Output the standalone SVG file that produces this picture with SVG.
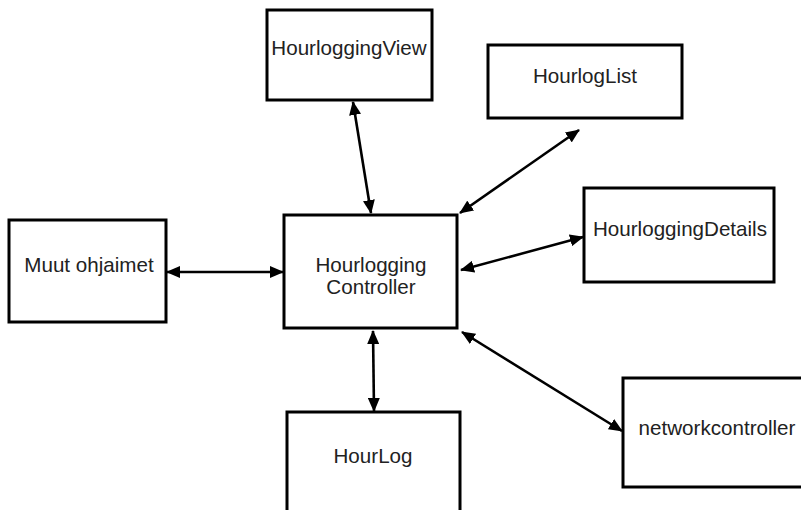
<svg xmlns="http://www.w3.org/2000/svg" width="801" height="510" viewBox="0 0 801 510">
  <style>
    .box { fill: #ffffff; stroke: #000000; stroke-width: 3; }
    .lbl { font-family: "Liberation Sans", Arial, sans-serif; font-size: 20.6px; fill: #222222; text-anchor: middle; }
    .link { stroke: #000000; stroke-width: 2.6; fill: none; marker-start: url(#head); marker-end: url(#head); }
  </style>
  <defs>
    <marker id="head" viewBox="0 0 14 12" refX="13" refY="6" markerWidth="14" markerHeight="12" markerUnits="userSpaceOnUse" orient="auto-start-reverse">
      <path d="M0,0 L14,6 L0,12 Z" fill="#000000"/>
    </marker>
  </defs>
  <rect width="801" height="510" fill="#ffffff"/>

  <g id="connectors">
    <line class="link" x1="167" y1="272" x2="283" y2="272"/>
    <line class="link" x1="353" y1="102" x2="371" y2="213"/>
    <line class="link" x1="579" y1="130" x2="460" y2="213"/>
    <line class="link" x1="583" y1="237" x2="461" y2="270"/>
    <line class="link" x1="373" y1="331" x2="374" y2="411"/>
    <line class="link" x1="462" y1="332" x2="622" y2="431"/>
  </g>

  <g id="hourlogging-view">
    <rect class="box" x="267" y="10" width="165" height="90"/>
    <text class="lbl" x="349" y="55">HourloggingView</text>
  </g>

  <g id="hourlog-list">
    <rect class="box" x="488" y="45" width="194" height="73"/>
    <text class="lbl" x="585" y="83">HourlogList</text>
  </g>

  <g id="muut-ohjaimet">
    <rect class="box" x="9" y="220" width="157" height="102"/>
    <text class="lbl" x="89" y="272">Muut ohjaimet</text>
  </g>

  <g id="hourlogging-controller">
    <rect class="box" x="284" y="215" width="173" height="113"/>
    <text class="lbl" x="371" y="272">Hourlogging</text>
    <text class="lbl" x="371" y="294">Controller</text>
  </g>

  <g id="hourlogging-details">
    <rect class="box" x="584" y="188" width="190" height="94"/>
    <text class="lbl" x="680" y="236">HourloggingDetails</text>
  </g>

  <g id="hourlog">
    <rect class="box" x="287" y="412" width="173" height="110"/>
    <text class="lbl" x="373" y="463">HourLog</text>
  </g>

  <g id="networkcontroller">
    <rect class="box" x="623" y="378" width="190" height="109"/>
    <text class="lbl" x="717" y="435">networkcontroller</text>
  </g>
</svg>
